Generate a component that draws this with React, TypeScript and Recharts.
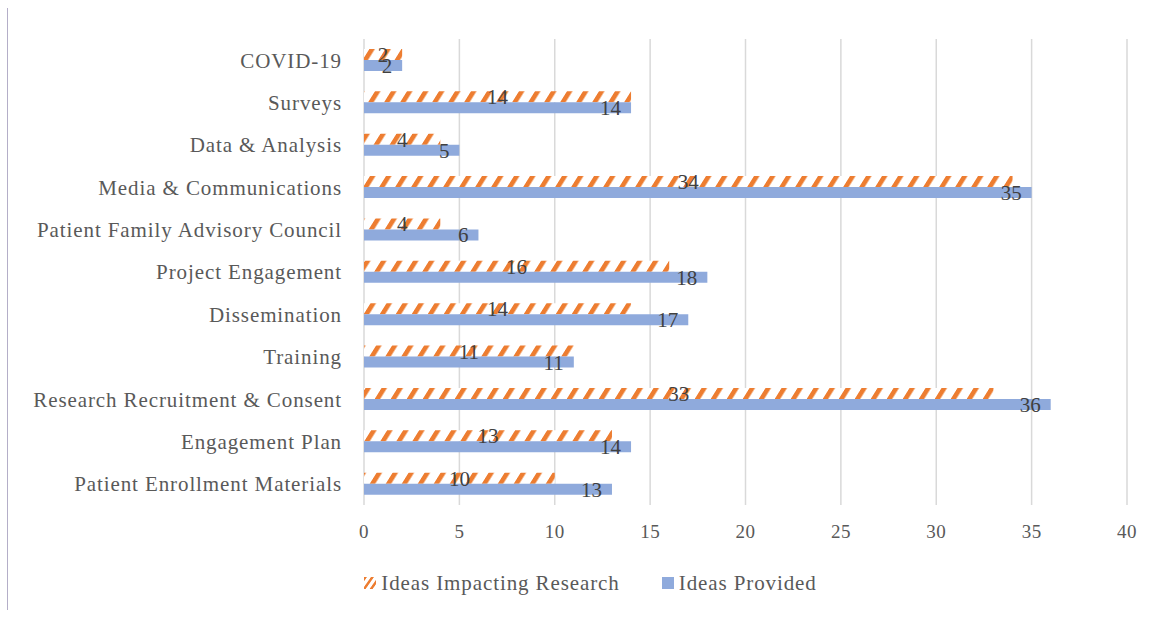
import React from 'react';
import { BarChart, Bar, XAxis, YAxis, CartesianGrid, Legend, LabelList } from 'recharts';

const categories = [
  'COVID-19',
  'Surveys',
  'Data & Analysis',
  'Media & Communications',
  'Patient Family Advisory Council',
  'Project Engagement',
  'Dissemination',
  'Training',
  'Research Recruitment & Consent',
  'Engagement Plan',
  'Patient Enrollment Materials',
];
const ideasImpacting = [2, 14, 4, 34, 4, 16, 14, 11, 33, 13, 10];
const ideasProvided = [2, 14, 5, 35, 6, 18, 17, 11, 36, 14, 13];
const xTicks = [0, 5, 10, 15, 20, 25, 30, 35, 40];

const seriesNames = ['Ideas Impacting Research', 'Ideas Provided'];
const ORANGE = '#ED7D31';
const BLUE = '#8FAADC';
const FONT = '"Liberation Serif", "DejaVu Serif", serif';

const data = categories.map((name, i) => ({
  name,
  impacting: ideasImpacting[i],
  provided: ideasProvided[i],
}));

// wide upward diagonal stripes, like Excel's pattern fill
function Hatch({ id }: { id: string }) {
  return (
    <pattern id={id} width={16} height={16} patternUnits="userSpaceOnUse" patternTransform="skewX(-32)">
      <rect width={16} height={16} fill="#ffffff" />
      <rect x={0} width={5.5} height={16} fill={ORANGE} />
    </pattern>
  );
}

function LegendContent() {
  return (
    <div style={{ display: 'flex', justifyContent: 'center', alignItems: 'center', height: 26, paddingLeft: 48, fontFamily: FONT, fontSize: 21, letterSpacing: 0.9, color: '#595959' }}>
      <div style={{ display: 'flex', alignItems: 'center', marginRight: 42 }}>
        <svg width={12} height={12} style={{ marginRight: 5 }}>
          <defs>
            <pattern id="hatchLegend" width={7} height={7} patternUnits="userSpaceOnUse" patternTransform="skewX(-35)">
              <rect width={7} height={7} fill="#ffffff" />
              <rect x={0} width={3} height={7} fill={ORANGE} />
            </pattern>
          </defs>
          <rect width={12} height={12} fill="url(#hatchLegend)" />
        </svg>
        {seriesNames[0]}
      </div>
      <div style={{ display: 'flex', alignItems: 'center' }}>
        <svg width={12} height={12} style={{ marginRight: 5 }}>
          <rect width={12} height={12} fill={BLUE} />
        </svg>
        {seriesNames[1]}
      </div>
    </div>
  );
}

export default function App() {
  return (
    <div style={{ position: 'absolute', left: 0, top: 0, width: 1156, height: 617, background: '#fff', fontFamily: FONT }}>
      <div style={{ position: 'absolute', left: 7, top: 8, width: 1, height: 602, background: '#b4aec8' }} />
      <BarChart
        width={1156}
        height={617}
        data={data}
        layout="vertical"
        margin={{ top: 39, right: 29, left: 6, bottom: 46 }}
        barSize={11}
        barGap={0}
      >
        <defs>
          <Hatch id="hatchOrange" />
        </defs>
        <CartesianGrid horizontal={false} stroke="#d9d9d9" strokeWidth={1.5} />
        <XAxis
          type="number"
          domain={[0, 40]}
          ticks={xTicks}
          axisLine={false}
          tickLine={false}
          tickMargin={14}
          height={40}
          tick={{ fill: '#595959', fontSize: 19, letterSpacing: 0.5 }}
        />
        <YAxis
          type="category"
          dataKey="name"
          width={358}
          axisLine={false}
          tickLine={false}
          tickMargin={16}
          interval={0}
          tick={{ fill: '#595959', fontSize: 21, letterSpacing: 0.9 }}
        />
        <Legend verticalAlign="bottom" wrapperStyle={{ bottom: 21 }} content={() => <LegendContent />} />
        <Bar dataKey="impacting" name={seriesNames[0]} fill="url(#hatchOrange)" isAnimationActive={false}>
          <LabelList dataKey="impacting" position="center" fill="#404040" fontSize={21} />
        </Bar>
        <Bar dataKey="provided" name={seriesNames[1]} fill={BLUE} isAnimationActive={false}>
          <LabelList dataKey="provided" position="insideRight" offset={10} fill="#404040" fontSize={21} />
        </Bar>
      </BarChart>
    </div>
  );
}
